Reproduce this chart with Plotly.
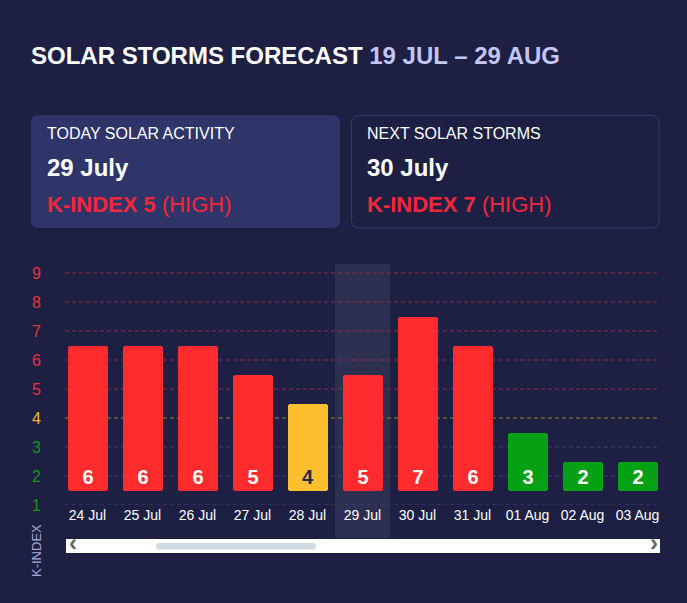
import plotly.graph_objects as go

# ---------------- data ----------------
dates = ["24 Jul", "25 Jul", "26 Jul", "27 Jul", "28 Jul", "29 Jul",
         "30 Jul", "31 Jul", "01 Aug", "02 Aug", "03 Aug"]
k_index = [6, 6, 6, 5, 4, 5, 7, 6, 3, 2, 2]
scale_levels = [1, 2, 3, 4, 5, 6, 7, 8, 9]
today_label = "29 Jul"

title_main = "SOLAR STORMS FORECAST"
title_range = "19 JUL \u2013 29 AUG"
card1 = ["TODAY SOLAR ACTIVITY", "29 July", "K-INDEX 5", "(HIGH)"]
card2 = ["NEXT SOLAR STORMS", "30 July", "K-INDEX 7", "(HIGH)"]

# ---------------- style ----------------
W, H = 687, 603
ML, MR, MT, MB = 60, 22, 264, 98
PW, PH = W - ML - MR, H - MT - MB
UNIT = 29.0  # px per k-index level
BG = "#1d1f43"
RED, YEL, GRN = "#ff2b2d", "#fdbf2d", "#05a014"
FONT = "Liberation Sans, Arial, sans-serif"


def level_color(k):
    return RED if k >= 5 else (YEL if k == 4 else GRN)


def label_color(k):
    return "#e8333b" if k >= 5 else ("#f4b631" if k == 4 else "#0b9a17")


def grid_color(k):
    return "#952b40" if k >= 5 else ("#9a8038" if k == 4 else "#3d4276")


def px(x):
    return (x - ML) / PW


def py(y):
    return (MT + PH - y) / PH


def rrect(x0, y0, x1, y1, r):
    # rounded rectangle path in paper coords from pixel corners
    X0, X1 = px(x0), px(x1)
    Y0, Y1 = py(y0), py(y1)
    rx, ry = r / PW, r / PH
    return (f"M{X0+rx},{Y0} L{X1-rx},{Y0} Q{X1},{Y0} {X1},{Y0-ry} "
            f"L{X1},{Y1+ry} Q{X1},{Y1} {X1-rx},{Y1} L{X0+rx},{Y1} "
            f"Q{X0},{Y1} {X0},{Y1+ry} L{X0},{Y0-ry} Q{X0},{Y0} {X0+rx},{Y0} Z")


base_val = 1.5
fig = go.Figure()
fig.add_trace(go.Bar(
    x=dates,
    y=[k - 1 for k in k_index],
    base=base_val,
    width=40 / 55,
    marker=dict(color=[level_color(k) for k in k_index], cornerradius=3,
                line=dict(width=0)),
    text=[str(k) for k in k_index],
    textposition="inside",
    insidetextanchor="start",
    textangle=0,
    textfont=dict(family=FONT, size=20,
                  color=["#262a4f" if k == 4 else "#ffffff" for k in k_index],
                  weight="bold"),
    hoverinfo="x+text",
    showlegend=False,
))

shapes = []
# highlight column for today
ti = dates.index(today_label)
shapes.append(dict(type="rect", xref="x", yref="paper",
                   x0=ti - 0.5, x1=ti + 0.5, y0=py(538), y1=1.0,
                   fillcolor="rgba(255,255,255,0.075)", line=dict(width=0),
                   layer="below"))
# gridlines
for k in scale_levels:
    shapes.append(dict(type="line", xref="paper", yref="y",
                       x0=px(65), x1=px(660), y0=k, y1=k,
                       line=dict(color=grid_color(k), width=1, dash="4px,3px"),
                       layer="below"))
# cards
shapes.append(dict(type="path", xref="paper", yref="paper",
                   path=rrect(31, 115, 340, 228, 8),
                   fillcolor="#2f3469", line=dict(width=0)))
shapes.append(dict(type="path", xref="paper", yref="paper",
                   path=rrect(351.5, 115.5, 659, 228, 8),
                   fillcolor=BG, line=dict(color="#353a70", width=1)))
# scrollbar
shapes.append(dict(type="rect", xref="paper", yref="paper",
                   x0=px(66), x1=px(660), y0=py(553), y1=py(539),
                   fillcolor="#ffffff", line=dict(width=0)))
shapes.append(dict(type="path", xref="paper", yref="paper",
                   path=rrect(156, 543, 316, 549.5, 3),
                   fillcolor="#cfd9e3", line=dict(width=0)))

ann = []
ann.append(dict(xref="paper", yref="paper", x=px(29), y=py(55),
                xanchor="left", yanchor="middle", showarrow=False,
                text=f"<b>{title_main} <span style='color:#c3c6f5'>{title_range}</span></b>",
                font=dict(family=FONT, size=24, color="#ffffff")))
for cx, c in ((45, card1), (365, card2)):
    ann.append(dict(xref="paper", yref="paper", x=px(cx), y=py(134),
                    xanchor="left", yanchor="middle", showarrow=False,
                    text=c[0], font=dict(family=FONT, size=16, color="#ffffff")))
    ann.append(dict(xref="paper", yref="paper", x=px(cx), y=py(167.5),
                    xanchor="left", yanchor="middle", showarrow=False,
                    text=f"<b>{c[1]}</b>", font=dict(family=FONT, size=24, color="#ffffff")))
    ann.append(dict(xref="paper", yref="paper", x=px(cx), y=py(204),
                    xanchor="left", yanchor="middle", showarrow=False,
                    text=f"<b>{c[2]}</b> {c[3]}",
                    font=dict(family=FONT, size=22, color="#f2283a")))
# y tick labels coloured per level
for k in scale_levels:
    ann.append(dict(xref="paper", yref="y", x=px(36.5), y=k,
                    xanchor="center", yanchor="middle", showarrow=False,
                    text=str(k), font=dict(family=FONT, size=16, color=label_color(k))))
# y axis title
ann.append(dict(xref="paper", yref="paper", x=px(36), y=py(551),
                xanchor="center", yanchor="middle", showarrow=False, textangle=-90,
                text="K-INDEX", font=dict(family=FONT, size=13, color="#a3a9d6")))
# scrollbar arrows
ann.append(dict(xref="paper", yref="paper", x=px(73), y=py(542.5),
                xanchor="center", yanchor="middle", showarrow=False,
                text="<b>\u2039</b>", font=dict(family=FONT, size=24, color="#666666")))
ann.append(dict(xref="paper", yref="paper", x=px(654), y=py(542.5),
                xanchor="center", yanchor="middle", showarrow=False,
                text="<b>\u203a</b>", font=dict(family=FONT, size=24, color="#666666")))

fig.update_layout(
    width=W, height=H,
    margin=dict(l=ML, r=MR, t=MT, b=MB, pad=0),
    paper_bgcolor=BG, plot_bgcolor="rgba(0,0,0,0)",
    shapes=shapes, annotations=ann,
    bargap=0, font=dict(family=FONT),
    xaxis=dict(type="category", range=[-0.5, len(dates) - 0.5],
               showgrid=False, zeroline=False, showline=False, ticks="",
               tickfont=dict(family=FONT, size=14, color="#ffffff"),
               fixedrange=True),
    yaxis=dict(range=[1, 1 + PH / UNIT], showgrid=False, zeroline=False,
               showline=False, showticklabels=False, fixedrange=True),
    uniformtext=dict(mode=False),
)

fig.write_html("out.html", config={"displayModeBar": False},
               post_script="document.body.style.margin='0';")
